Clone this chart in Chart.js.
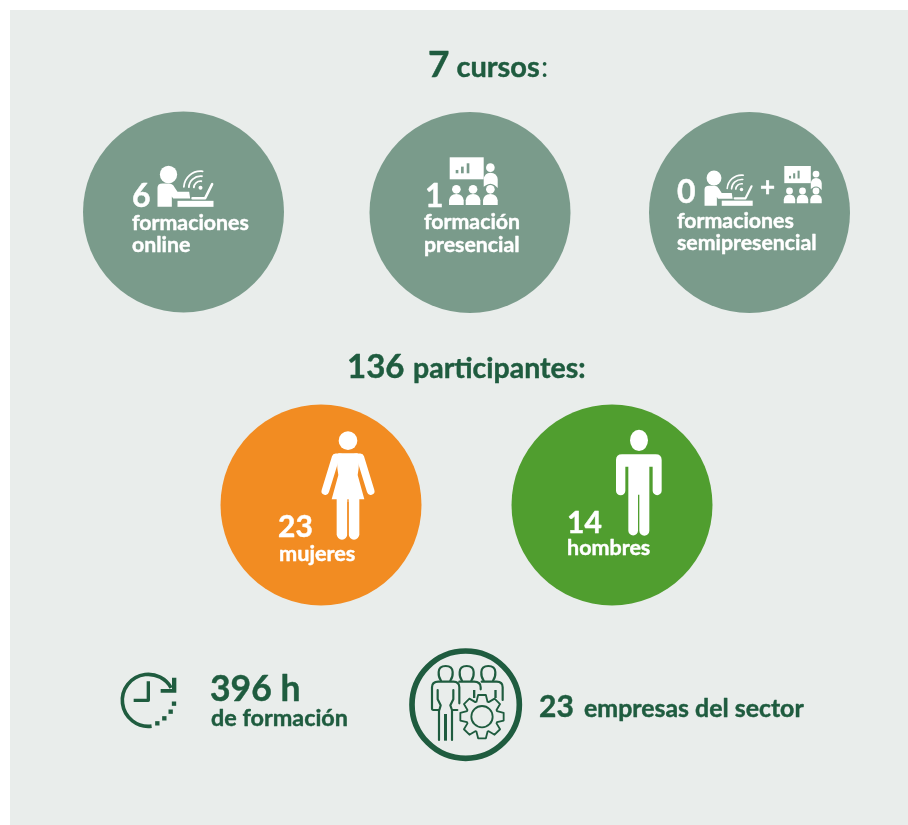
<!DOCTYPE html>
<html lang="es">
<head>
<meta charset="utf-8">
<title>Formación</title>
<style>
html,body{margin:0;padding:0;background:#fff}
canvas{display:block}
</style>
<script src="https://cdn.jsdelivr.net/npm/chart.js@4"></script>
</head>
<body>
<canvas id="c" width="908" height="825"></canvas>
<script>
// ---- data ----
const courseTotal = 7;
const courseTitle = "cursos";
const courseCounts = [6, 1, 0];
const courseLabels = [["formaciones", "online"], ["formación", "presencial"], ["formaciones", "semipresencial"]];
const participantTotal = 136;
const participantTitle = "participantes:";
const genderCounts = [23, 14];
const genderLabels = ["mujeres", "hombres"];
const trainingHours = 396;
const hoursLabel = "de formación";
const companyCount = 23;
const companyLabel = "empresas del sector";

// ---- layout and style ----
const W = 908, H = 825;
const FONT = "Lato, Carlito, sans-serif";
const PANEL = "#e9edeb", SAGE = "#7a9b8b", ORANGE = "#f28c22", GREEN = "#509e2f", DARK = "#1f5c3f";
const courseCentres = [[183.5, 212], [470, 212.5], [749.5, 212.5]];
const genderCentres = [[321, 505], [612, 505]];
const RADIUS = 100.5;

const bubbles = (centres, values) => values.map((v, i) => ({ x: centres[i][0], y: centres[i][1], r: RADIUS, value: v }));

function text(ctx, s, x, y, size, color, weight) {
  ctx.font = (weight || "bold") + " " + size + "px " + FONT;
  ctx.fillStyle = color;
  ctx.textAlign = "left";
  ctx.textBaseline = "alphabetic";
  ctx.fillText(s, x, y);
  if (!weight) {
    ctx.strokeStyle = color;
    ctx.lineWidth = 0.45;
    ctx.lineJoin = "round";
    ctx.strokeText(s, x, y);
  }
}

function withIcon(ctx, ox, oy, s, fn) {
  ctx.save();
  ctx.translate(ox, oy);
  ctx.scale(s / 3, s / 3);
  fn();
  ctx.restore();
}
function disc(ctx, x, y, r) { ctx.beginPath(); ctx.arc(x, y, r, 0, Math.PI * 2); ctx.fill(); }
function poly(ctx, pts) {
  ctx.beginPath();
  pts.forEach((p, i) => i ? ctx.lineTo(p[0], p[1]) : ctx.moveTo(p[0], p[1]));
  ctx.closePath(); ctx.fill();
}

// person at laptop with wifi; units are 3x px, origin at the head centre
function onlineIcon(ctx, ox, oy, s) {
  withIcon(ctx, ox, oy, s, () => {
    ctx.fillStyle = "#fff"; ctx.strokeStyle = "#fff";
    disc(ctx, 0, 0, 26);
    ctx.beginPath();
    ctx.moveTo(-33, 97); ctx.lineTo(-33, 40);
    ctx.quadraticCurveTo(-33, 27, -18, 27);
    ctx.lineTo(2, 27); ctx.quadraticCurveTo(12, 27, 18, 38);
    ctx.lineTo(27, 52); ctx.lineTo(62, 52); ctx.lineTo(65, 72);
    ctx.lineTo(14, 72); ctx.lineTo(10, 66); ctx.lineTo(10, 97);
    ctx.closePath(); ctx.fill();
    ctx.fillRect(27, 79, 108, 18);
    ctx.lineWidth = 7.5;
    ctx.lineCap = "round";
    ctx.lineJoin = "round";
    ctx.beginPath(); ctx.moveTo(131, 29); ctx.lineTo(110, 71); ctx.lineTo(72, 71); ctx.stroke();
    disc(ctx, 96, 40, 6);
    [20, 35, 50].forEach(r => {
      ctx.lineWidth = 5.5;
      ctx.beginPath(); ctx.arc(96, 40, r, -Math.PI * 0.98, -Math.PI * 0.46); ctx.stroke();
    });
  });
}

function attendee(ctx, x, y) {
  disc(ctx, x, y, 13);
  ctx.beginPath();
  ctx.moveTo(x - 22, y + 47);
  ctx.lineTo(x - 22, y + 33);
  ctx.quadraticCurveTo(x - 20, y + 15, x, y + 14);
  ctx.quadraticCurveTo(x + 20, y + 15, x + 22, y + 33);
  ctx.lineTo(x + 22, y + 47);
  ctx.closePath(); ctx.fill();
}

// board, presenter and audience; origin at the board's top-left corner
function classIcon(ctx, ox, oy, s) {
  withIcon(ctx, ox, oy, s, () => {
    ctx.fillStyle = "#fff";
    ctx.fillRect(0, 0, 102, 66);
    ctx.fillStyle = SAGE;
    ctx.fillRect(18, 38, 8, 10);
    ctx.fillRect(34, 28, 8, 20);
    ctx.fillRect(51, 18, 8, 30);
    ctx.fillStyle = "#fff";
    disc(ctx, 122, 31, 13);
    ctx.beginPath();
    ctx.moveTo(102, 88); ctx.lineTo(102, 66);
    ctx.quadraticCurveTo(104, 47, 122, 46);
    ctx.quadraticCurveTo(142, 47, 144, 66);
    ctx.lineTo(144, 92); ctx.lineTo(135, 84);
    ctx.quadraticCurveTo(122, 74, 109, 84);
    ctx.closePath(); ctx.fill();
    attendee(ctx, 20, 96);
    attendee(ctx, 70, 96);
    attendee(ctx, 122, 96);
  });
}

function womanIcon(ctx, ox, oy) {
  withIcon(ctx, ox, oy, 1, () => {
    ctx.fillStyle = "#fff"; ctx.strokeStyle = "#fff";
    disc(ctx, 234, 62, 28);
    ctx.beginPath();
    ctx.moveTo(205, 100); ctx.lineTo(263, 100);
    ctx.quadraticCurveTo(270, 130, 263, 165);
    ctx.lineTo(283, 238); ctx.lineTo(185, 238); ctx.lineTo(205, 165);
    ctx.quadraticCurveTo(198, 130, 205, 100);
    ctx.closePath(); ctx.fill();
    ctx.lineWidth = 23; ctx.lineCap = "round"; ctx.lineJoin = "round";
    ctx.beginPath(); ctx.moveTo(210, 112); ctx.lineTo(197, 112); ctx.lineTo(166, 213); ctx.stroke();
    ctx.beginPath(); ctx.moveTo(258, 112); ctx.lineTo(271, 112); ctx.lineTo(302, 213); ctx.stroke();
    ctx.lineWidth = 32;
    ctx.beginPath(); ctx.moveTo(216, 230); ctx.lineTo(216, 343); ctx.stroke();
    ctx.beginPath(); ctx.moveTo(252, 230); ctx.lineTo(252, 343); ctx.stroke();
    ctx.strokeStyle = ORANGE; ctx.lineWidth = 4; ctx.lineCap = "butt";
    ctx.beginPath(); ctx.moveTo(234, 246); ctx.lineTo(234, 360); ctx.stroke();
  });
}

function manIcon(ctx, ox, oy) {
  withIcon(ctx, ox, oy, 1, () => {
    ctx.fillStyle = "#fff"; ctx.strokeStyle = "#fff";
    ctx.beginPath(); ctx.ellipse(237, 61, 27, 32, 0, 0, Math.PI * 2); ctx.fill();
    ctx.beginPath();
    ctx.moveTo(168, 120); ctx.quadraticCurveTo(168, 103, 186, 103);
    ctx.lineTo(287, 103); ctx.quadraticCurveTo(305, 103, 305, 120);
    ctx.lineTo(305, 212); ctx.arc(291.5, 212, 13.5, 0, Math.PI);
    ctx.lineTo(278, 140); ctx.lineTo(268, 140);
    ctx.lineTo(268, 332); ctx.arc(253, 332, 15, 0, Math.PI);
    ctx.lineTo(238, 224); ctx.lineTo(234, 224);
    ctx.lineTo(234, 332); ctx.arc(219.5, 332, 14.5, 0, Math.PI);
    ctx.lineTo(205, 140); ctx.lineTo(196, 140);
    ctx.lineTo(196, 212); ctx.arc(182, 212, 14, 0, Math.PI);
    ctx.closePath(); ctx.fill();
  });
}

function clockIcon(ctx, ox, oy) {
  withIcon(ctx, ox, oy, 1, () => {
    ctx.strokeStyle = DARK; ctx.fillStyle = DARK;
    ctx.lineWidth = 11;
    ctx.beginPath();
    ctx.arc(115, 181, 78, Math.PI * 0.46, -Math.PI * 0.16);
    ctx.stroke();
    poly(ctx, [[199, 113], [199, 158], [152, 158], [152, 147], [186, 147], [186, 113]]);
    ctx.lineWidth = 10;
    ctx.beginPath(); ctx.moveTo(115, 124); ctx.lineTo(115, 181); ctx.lineTo(71, 181); ctx.stroke();
    [[192, 191], [182, 215], [163, 235], [142, 250]].forEach(p => ctx.fillRect(p[0] - 6.5, p[1] - 6.5, 13, 13));
  });
}

function outlinePerson(ctx, x, sc) {
  // head and shoulders outline
  ctx.beginPath();
  ctx.moveTo(x - 14, 122);
  ctx.quadraticCurveTo(x - 22, 112, x - 21, 96);
  ctx.quadraticCurveTo(x - 20, 78, x, 78);
  ctx.quadraticCurveTo(x + 20, 78, x + 21, 96);
  ctx.quadraticCurveTo(x + 22, 112, x + 14, 122);
  ctx.stroke();
}

function companyIcon(ctx, ox, oy) {
  withIcon(ctx, ox, oy, 1, () => {
    ctx.strokeStyle = DARK; ctx.fillStyle = DARK;
    ctx.lineWidth = 17;
    ctx.beginPath(); ctx.arc(197, 194, 161, 0, Math.PI * 2); ctx.stroke();
    ctx.lineWidth = 6.5; ctx.lineJoin = "round"; ctx.lineCap = "round";
    outlinePerson(ctx, 137);
    outlinePerson(ctx, 200);
    outlinePerson(ctx, 265);
    // front person
    ctx.beginPath();
    ctx.moveTo(113, 150); ctx.lineTo(113, 178); ctx.lineTo(122, 196); ctx.lineTo(118, 210);
    ctx.lineTo(100, 210); ctx.quadraticCurveTo(96, 210, 96, 205); ctx.lineTo(96, 142);
    ctx.quadraticCurveTo(96, 125, 115, 125); ctx.lineTo(160, 125);
    ctx.quadraticCurveTo(178, 125, 178, 142); ctx.lineTo(178, 190); ctx.stroke();
    ctx.beginPath();
    ctx.moveTo(160, 150); ctx.lineTo(160, 178); ctx.lineTo(151, 196); ctx.lineTo(156, 210); ctx.lineTo(172, 210); ctx.stroke();
    ctx.beginPath(); ctx.moveTo(117, 212); ctx.lineTo(117, 300); ctx.stroke();
    ctx.beginPath(); ctx.moveTo(156, 212); ctx.lineTo(156, 300); ctx.stroke();
    ctx.fillRect(132, 222, 9, 80);
    // back people shoulders
    ctx.beginPath(); ctx.moveTo(178, 125); ctx.lineTo(222, 125); ctx.quadraticCurveTo(242, 125, 242, 142); ctx.lineTo(242, 148); ctx.stroke();
    ctx.beginPath(); ctx.moveTo(245, 125); ctx.lineTo(290, 125); ctx.quadraticCurveTo(308, 125, 308, 142); ctx.lineTo(308, 180); ctx.stroke();
    ctx.fillRect(219, 150, 7, 24);
    ctx.fillRect(283, 150, 7, 24);
    // gear
    const cx = 246, cy = 230, teeth = 8;
    ctx.lineWidth = 5.5;
    ctx.beginPath();
    for (let i = 0; i < teeth; i++) {
      const a = (i / teeth) * Math.PI * 2 - Math.PI / 2, d = Math.PI / teeth;
      const pts = [[a - d * 0.9, 48], [a - d * 0.45, 66], [a + d * 0.45, 66], [a + d * 0.9, 48]];
      pts.forEach((p, j) => {
        const px = cx + p[1] * Math.cos(p[0]), py = cy + p[1] * Math.sin(p[0]);
        (i === 0 && j === 0) ? ctx.moveTo(px, py) : ctx.lineTo(px, py);
      });
    }
    ctx.closePath();
    ctx.fillStyle = PANEL; ctx.fill();
    ctx.stroke();
    ctx.beginPath(); ctx.arc(cx, cy, 32, 0, Math.PI * 2); ctx.stroke();
  });
}

const artwork = {
  id: "artwork",
  beforeDraw(chart) {
    const ctx = chart.ctx;
    ctx.save();
    ctx.fillStyle = "#fff"; ctx.fillRect(0, 0, W, H);
    ctx.fillStyle = PANEL; ctx.fillRect(10, 10, W - 10, H - 10);
    ctx.restore();
  },
  afterDraw(chart) {
    const ctx = chart.ctx;
    ctx.save();
    // headings
    text(ctx, String(courseTotal), 428, 77, 37, DARK);
    text(ctx, courseTitle, 456.5, 77, 29, DARK);
    text(ctx, ":", 541, 77, 29, DARK, "normal");
    text(ctx, String(participantTotal), 347, 378, 33, DARK);
    text(ctx, participantTitle, 413, 378, 28.5, DARK);
    // course circles
    const white = "#fff";
    const numX = [132, 425, 677], numY = [207, 207, 203];
    const lab1 = [230, 229, 228], lab2 = [252, 252, 250];
    const labX = [132, 424, 677];
    courseCounts.forEach((v, i) => {
      text(ctx, String(v), numX[i], numY[i], 32, white);
      text(ctx, courseLabels[i][0], labX[i], lab1[i], 21.3, white);
      text(ctx, courseLabels[i][1], labX[i], lab2[i], 21.3, white);
    });
    onlineIcon(ctx, 168.5, 174.5, 1);
    classIcon(ctx, 449.7, 157.3, 1);
    onlineIcon(ctx, 714, 178, 0.86);
    text(ctx, "+", 760, 196, 26, white);
    classIcon(ctx, 784.3, 166, 0.78);
    // gender circles
    text(ctx, String(genderCounts[0]), 278, 537, 30, white);
    text(ctx, genderLabels[0], 279, 561, 21.7, white);
    text(ctx, String(genderCounts[1]), 567, 533, 30, white);
    text(ctx, genderLabels[1], 567, 555, 21.5, white);
    womanIcon(ctx, 270, 420);
    manIcon(ctx, 560, 420);
    // footer
    clockIcon(ctx, 110, 640);
    text(ctx, trainingHours + " h", 210, 701, 35.5, DARK);
    text(ctx, hoursLabel, 211, 726, 23.4, DARK);
    companyIcon(ctx, 400, 640);
    text(ctx, String(companyCount), 539, 717, 30, DARK);
    text(ctx, companyLabel, 584, 717, 24.9, DARK);
    ctx.restore();
  }
};

new Chart(document.getElementById("c"), {
  type: "bubble",
  data: {
    datasets: [
      { label: "cursos", data: bubbles(courseCentres, courseCounts), backgroundColor: SAGE, borderWidth: 0, hoverBorderWidth: 0 },
      { label: "participantes", data: bubbles(genderCentres, genderCounts), backgroundColor: [ORANGE, GREEN], borderWidth: 0, hoverBorderWidth: 0 }
    ]
  },
  options: {
    responsive: false,
    animation: false,
    events: [],
    layout: { padding: 0, autoPadding: false },
    plugins: { legend: { display: false }, tooltip: { enabled: false }, title: { display: false } },
    scales: {
      x: { type: "linear", display: false, min: 0, max: W },
      y: { type: "linear", display: false, min: 0, max: H, reverse: true }
    }
  },
  plugins: [artwork]
});
</script>
</body>
</html>
